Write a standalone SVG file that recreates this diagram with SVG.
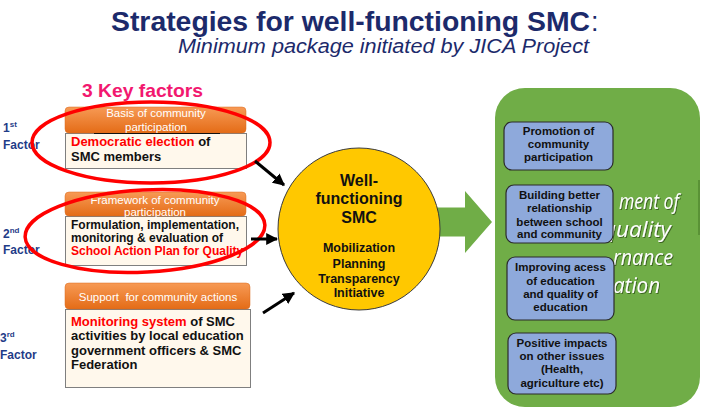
<svg xmlns="http://www.w3.org/2000/svg" width="714" height="419" viewBox="0 0 714 419">
<defs>
<style>
.title{font-family:"Liberation Sans",Arial,sans-serif;font-weight:bold;fill:#1C2A6B}
.sub{font-family:"Liberation Sans",Arial,sans-serif;font-style:italic;fill:#1C2A6B}
.fac{font-family:"Liberation Sans",Arial,sans-serif;font-weight:bold;fill:#1F3C88;font-size:12px}
.hdr{fill:url(#og);stroke:#D8691E;stroke-width:0.5}
.hdrt{font-family:"Liberation Sans",Arial,sans-serif;fill:#fff;font-size:11.5px;text-anchor:middle}
.body{fill:#FFF8EC;stroke:#7F7F7F;stroke-width:1}
.bt{font-family:"Liberation Sans",Arial,sans-serif;font-weight:bold;fill:#111}
.red{fill:#FF0000}
.ell{fill:none;stroke:#FF0000;stroke-width:3.5}
.conn{stroke:#000;stroke-width:3;fill:none;marker-end:url(#ah)}
.ct{font-family:"Liberation Sans",Arial,sans-serif;font-weight:bold;fill:#111;text-anchor:middle}
.blue{fill:#8EA9DB;stroke:#2B2B2B;stroke-width:1.2}
.blt{font-family:"Liberation Sans",Arial,sans-serif;font-weight:bold;fill:#111;font-size:11.5px;text-anchor:middle}
.wt{font-family:"Open Sans","Liberation Sans",sans-serif;font-style:italic;fill:#fff;font-size:21px;filter:url(#sh)}
</style>
<linearGradient id="og" x1="0" y1="0" x2="0" y2="1">
<stop offset="0" stop-color="#F79A55"/>
<stop offset="1" stop-color="#E46C17"/>
</linearGradient>
<marker id="ah" viewBox="0 0 10 10" refX="9" refY="5" markerWidth="4" markerHeight="4" orient="auto" markerUnits="strokeWidth">
<path d="M0,0 L10,5 L0,10 z" fill="#000"/>
</marker>
<filter id="sh" x="-10%" y="-20%" width="130%" height="150%">
<feDropShadow dx="1" dy="1" stdDeviation="0.6" flood-color="#2A4A15" flood-opacity="0.7"/>
</filter>
</defs>
<rect width="714" height="419" fill="#fff"/>

<g id="title">
<text class="title" x="111" y="31" font-size="27" textLength="479" lengthAdjust="spacingAndGlyphs">Strategies for well-functioning SMC</text>
<text x="591" y="31" font-size="27" font-family="Liberation Sans,Arial,sans-serif" fill="#1C2A6B">:</text>
<text class="sub" x="178" y="53" font-size="20" textLength="411" lengthAdjust="spacingAndGlyphs">Minimum package initiated by JICA Project</text>
</g>

<g id="keyfactors">
<text x="82" y="97" font-family="Liberation Sans,Arial,sans-serif" font-weight="bold" font-size="18.5" fill="#F2186F" textLength="121" lengthAdjust="spacingAndGlyphs">3 Key factors</text>
</g>

<g id="factor-labels">
<text class="fac" x="3" y="132">1<tspan font-size="8" dy="-5">st</tspan></text>
<text class="fac" x="3" y="149">Factor</text>
<text class="fac" x="3" y="238">2<tspan font-size="8" dy="-5">nd</tspan></text>
<text class="fac" x="3" y="254">Factor</text>
<text class="fac" x="0" y="342">3<tspan font-size="8" dy="-5">rd</tspan></text>
<text class="fac" x="0" y="359">Factor</text>
</g>

<g id="factor1">
<rect class="body" x="65.5" y="133.5" width="181" height="35"/>
<rect class="hdr" x="65" y="107" width="181" height="26" rx="4"/>
<text class="hdrt" x="156" y="117">Basis of community</text>
<text class="hdrt" x="156" y="131">participation</text>
<line x1="94" y1="133.5" x2="220" y2="133.5" stroke="#111" stroke-width="1"/>
<text class="bt" x="71" y="146" font-size="13"><tspan class="red">Democratic election</tspan> of</text>
<text class="bt" x="71" y="161" font-size="13">SMC members</text>
</g>

<g id="factor2">
<rect class="body" x="65.5" y="216.5" width="181" height="49"/>
<rect class="hdr" x="65" y="192" width="181" height="24" rx="4"/>
<text class="hdrt" x="155" y="204">Framework of community</text>
<text class="hdrt" x="155" y="216">participation</text>
<text class="bt" x="71" y="229" font-size="12">Formulation, implementation,</text>
<text class="bt" x="71" y="242" font-size="12">monitoring &amp; evaluation of</text>
<text class="bt red" x="71" y="255" font-size="12">School Action Plan for Quality</text>
</g>

<g id="factor3">
<rect class="body" x="65.5" y="309.5" width="185" height="78"/>
<rect class="hdr" x="65" y="283" width="185" height="26" rx="4"/>
<text class="hdrt" x="158" y="301" xml:space="preserve">Support  for community actions</text>
<text class="bt" x="71" y="326" font-size="13"><tspan class="red">Monitoring system</tspan> of SMC</text>
<text class="bt" x="71" y="340" font-size="13">activities by local education</text>
<text class="bt" x="71" y="355" font-size="13">government officers &amp; SMC</text>
<text class="bt" x="71" y="369" font-size="13">Federation</text>
</g>

<g id="highlights">
<ellipse class="ell" cx="151" cy="142.5" rx="119" ry="40.5"/>
<ellipse class="ell" cx="145" cy="231" rx="120" ry="41" transform="rotate(-3 145 231)"/>
</g>

<g id="connectors">
<line class="conn" x1="255" y1="161" x2="284" y2="185"/>
<line class="conn" x1="251" y1="239" x2="277" y2="239"/>
<line class="conn" x1="263" y1="313" x2="294" y2="293"/>
<polygon points="436,207.5 465,207.5 465,191 492,222 465,253 465,236.5 436,236.5" fill="#70AD47"/>
</g>

<g id="smc">
<circle cx="359" cy="229" r="81" fill="#FFC800" stroke="#3A3A3A" stroke-width="1"/>
<text class="ct" x="359" y="186" font-size="16">Well-</text>
<text class="ct" x="359" y="204" font-size="16">functioning</text>
<text class="ct" x="359" y="223" font-size="16">SMC</text>
<text class="ct" x="359" y="252" font-size="12.5">Mobilization</text>
<text class="ct" x="359" y="268" font-size="12.5">Planning</text>
<text class="ct" x="359" y="283" font-size="12.5">Transparency</text>
<text class="ct" x="359" y="297" font-size="12.5">Initiative</text>
</g>

<g id="outcome">
<rect x="495" y="88" width="205" height="319" rx="30" fill="#70AD47"/>
<rect x="698" y="180" width="2" height="55" fill="#5A9236"/>
<text class="wt" x="619" y="209" textLength="60" lengthAdjust="spacingAndGlyphs">ment of</text>
<text class="wt" x="603" y="237" textLength="68" lengthAdjust="spacingAndGlyphs">quality</text>
<text class="wt" x="613" y="265" textLength="60" lengthAdjust="spacingAndGlyphs">rnance</text>
<text class="wt" x="613" y="293" textLength="47" lengthAdjust="spacingAndGlyphs">ation</text>
</g>

<g id="promotion">
<rect class="blue" x="504" y="122" width="109" height="48" rx="8"/>
<text class="blt" x="558.5" y="135">Promotion of</text>
<text class="blt" x="558.5" y="148">community</text>
<text class="blt" x="558.5" y="161">participation</text>
</g>

<g id="relationship">
<rect class="blue" x="506" y="185" width="107" height="58" rx="8"/>
<text class="blt" x="559.5" y="199">Building better</text>
<text class="blt" x="559.5" y="212">relationship</text>
<text class="blt" x="559.5" y="226">between school</text>
<text class="blt" x="559.5" y="238">and community</text>
</g>

<g id="access">
<rect class="blue" x="507" y="257" width="107" height="63" rx="8"/>
<text class="blt" x="560.5" y="271">Improving acess</text>
<text class="blt" x="560.5" y="285">of education</text>
<text class="blt" x="560.5" y="298">and quality of</text>
<text class="blt" x="560.5" y="311">education</text>
</g>

<g id="impacts">
<rect class="blue" x="508" y="333" width="108" height="61" rx="8"/>
<text class="blt" x="562" y="347">Positive impacts</text>
<text class="blt" x="562" y="360">on other issues</text>
<text class="blt" x="562" y="373">(Health,</text>
<text class="blt" x="562" y="387">agriculture etc)</text>
</g>
</svg>
